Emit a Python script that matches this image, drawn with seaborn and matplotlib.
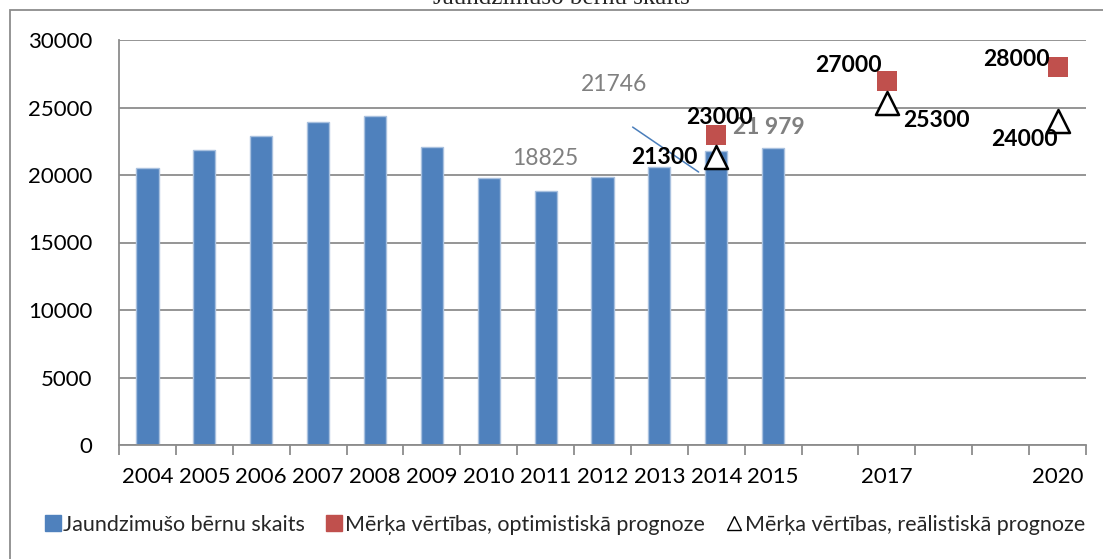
import matplotlib
matplotlib.use("Agg")
import matplotlib.pyplot as plt
from matplotlib.lines import Line2D
from matplotlib.patches import Rectangle
import pandas as pd
import seaborn as sns

# categories on the x axis (2016, 2018, 2019 have no label)
years = [str(y) for y in range(2004, 2021)]
year_labels = ["2004", "2005", "2006", "2007", "2008", "2009", "2010", "2011",
               "2012", "2013", "2014", "2015", "", "2017", "", "", "2020"]

# newborns per year
bar_years = ["2004", "2005", "2006", "2007", "2008", "2009", "2010", "2011",
             "2012", "2013", "2014", "2015"]
births = [20550, 21880, 22880, 23950, 24400, 22050, 19780, 18825, 19880, 20600, 21746, 21979]

# target values
target_years = ["2014", "2017", "2020"]
optimistic = [23000, 27000, 28000]
realistic = [21300, 25300, 24000]

BLUE = "#4F81BD"
RED = "#C0504D"
GRID = "#8c8c8c"

sns.set_theme(style="white")
plt.rcParams["font.family"] = ["Lato", "DejaVu Sans"]

fig = plt.figure(figsize=(11.03, 5.59), dpi=100)
ax = fig.add_axes([119 / 1103, 1 - 445 / 559, (1086 - 119) / 1103, 405 / 559])

df = pd.DataFrame({"year": bar_years, "births": births})
sns.barplot(data=df, x="year", y="births", order=years, color=BLUE, saturation=1,
            width=0.39, edgecolor="#A9C1DF", linewidth=1, ax=ax, zorder=2)

pos = [years.index(y) for y in target_years]
sns.scatterplot(x=pos, y=optimistic, marker="s", s=207, color=RED, linewidth=0,
                ax=ax, zorder=4)
sns.scatterplot(x=pos, y=realistic, marker="^", s=275, facecolor="white",
                edgecolor="black", linewidth=1.8, ax=ax, zorder=5)

# leader line left from the original chart
i14 = years.index("2014")
ax.plot([i14 - 1.47, i14 - 0.31], [23550, 20220], color="#4A7EBB", lw=1.1, zorder=6)


def label(x, y, txt, dx, dy, color="black", weight="bold"):
    ax.annotate(txt, xy=(x, y), xytext=(dx, dy), textcoords="offset pixels",
                ha="center", va="center", fontsize=16.5, color=color,
                fontweight=weight, zorder=7)


# bar value labels
label(years.index("2011"), births[7], "18825", 0, 32, color="#808080", weight="normal")
label(i14, births[10], "21746", -102, 67, color="#808080", weight="normal")
label(years.index("2015"), births[11], "21 979", -4, 21, color="#808080")

# target labels
opt_off = [(3, 17), (-38, 15), (-41, 7)]
real_off = [(-52, 0), (50, -17), (-33, -18)]
for p, v, (dx, dy) in zip(pos, optimistic, opt_off):
    label(p, v, str(v), dx, dy)
for p, v, (dx, dy) in zip(pos, realistic, real_off):
    label(p, v, str(v), dx, dy)

# axes styling
ax.set_xlim(-0.5, len(years) - 0.5)
ax.set_ylim(0, 30000)
ax.set_yticks(range(0, 30001, 5000))
ax.set_xticks(range(len(years)))
ax.set_xticklabels(year_labels)
ax.set_xticks([i - 0.5 for i in range(len(years) + 1)], minor=True)
ax.tick_params(axis="x", which="major", length=0, pad=16, labelsize=16, labelcolor="black")
ax.tick_params(axis="x", which="minor", length=7, width=1.3, color=GRID, direction="out", bottom=True)
ax.tick_params(axis="y", length=0, pad=19, labelsize=16, labelcolor="black")
ax.set_xlabel("")
ax.set_ylabel("")
ax.yaxis.grid(True, color=GRID, lw=1.3)
ax.set_axisbelow(True)
for s in ["top", "right"]:
    ax.spines[s].set_visible(False)
for s in ["left", "bottom"]:
    ax.spines[s].set_color(GRID)
    ax.spines[s].set_linewidth(1.3)

handles = [
    Line2D([], [], marker="s", ls="", color=BLUE, markersize=11),
    Line2D([], [], marker="s", ls="", color=RED, markersize=11),
    Line2D([], [], marker="^", ls="", markerfacecolor="white", markeredgecolor="black",
           markeredgewidth=1.0, markersize=10),
]
labels = ["Jaundzimušo bērnu skaits", "Mērķa vērtības, optimistiskā prognoze",
          "Mērķa vērtības, reālistiskā prognoze"]
fig.legend(handles, labels, loc="center", bbox_to_anchor=(565 / 1103, 1 - 525 / 559),
           ncol=3, frameon=False, fontsize=15.5, handlelength=0.7, handletextpad=0.15,
           columnspacing=1.0)

fig.text(561 / 1103, 1 - 4 / 559, "Jaundzimušo bērnu skaits", ha="center", va="baseline",
         family="Liberation Serif", fontsize=18)

fig.add_artist(Rectangle((10 / 1103, -0.5), 2, 1.5 - 10 / 559, transform=fig.transFigure,
                         fill=False, edgecolor=GRID, lw=1.3))

fig.savefig("out.png", dpi=100)
